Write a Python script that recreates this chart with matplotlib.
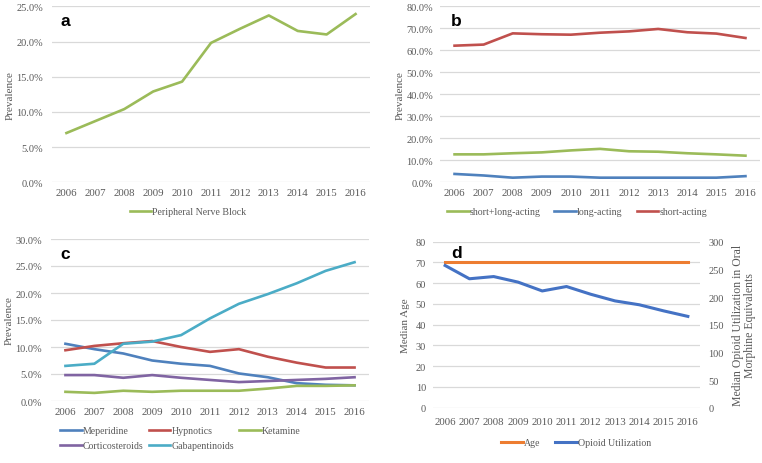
import matplotlib
matplotlib.use("Agg")
import matplotlib.pyplot as plt
from matplotlib.ticker import FuncFormatter, MultipleLocator

plt.rcParams['font.family'] = ['Liberation Serif', 'DejaVu Serif']

years = ['2006', '2007', '2008', '2009', '2010', '2011', '2012', '2013', '2014', '2015', '2016']

# Panel a
peripheral_nerve_block = [7.0, 8.7, 10.4, 12.9, 14.3, 19.8, 21.8, 23.7, 21.5, 21.0, 23.9]

# Panel b
short_long_acting = [12.7, 12.7, 13.2, 13.6, 14.5, 15.2, 14.1, 13.9, 13.2, 12.7, 12.1]
long_acting = [3.8, 3.1, 2.1, 2.6, 2.6, 2.1, 2.1, 2.1, 2.1, 2.1, 2.8]
short_acting = [62.1, 62.6, 67.7, 67.3, 67.1, 68.0, 68.6, 69.7, 68.2, 67.6, 65.6]

# Panel c
meperidine = [10.6, 9.6, 8.8, 7.5, 6.9, 6.5, 5.1, 4.4, 3.3, 3.0, 2.9]
hypnotics = [9.4, 10.2, 10.7, 11.1, 10.0, 9.1, 9.6, 8.2, 7.1, 6.2, 6.2]
ketamine = [1.7, 1.5, 1.9, 1.7, 1.9, 1.9, 1.9, 2.3, 2.8, 2.8, 2.9]
corticosteroids = [4.8, 4.8, 4.3, 4.8, 4.3, 3.9, 3.5, 3.7, 3.9, 4.1, 4.4]
gabapentinoids = [6.5, 6.9, 10.6, 11.0, 12.2, 15.3, 18.0, 19.8, 21.8, 24.1, 25.7]

# Panel d
median_age = [70, 70, 70, 70, 70, 70, 70, 70, 70, 70, 70]
opioid_utilization = [257, 233, 237, 227, 211, 219, 205, 193, 186, 175, 165]

W, H = 762, 464
fig = plt.figure(figsize=(W / 100, H / 100), dpi=100)

def box(x0, x1, ytop, ybot):
    return [x0 / W, 1 - ybot / H, (x1 - x0) / W, (ybot - ytop) / H]

GRID = '#D9D9D9'
TXT = '#595959'
FS = 7.5
XFS = 7.8
LFS = 7.1
LW = 1.9

def style(ax, ymax, step, pct=True, ypad=6.5, xpad=4):
    ax.set_xlim(-0.5, 10.5)
    ax.set_ylim(0, ymax)
    ax.yaxis.set_major_locator(MultipleLocator(step))
    if pct:
        ax.yaxis.set_major_formatter(FuncFormatter(lambda v, p: f'{v:.1f}%'))
    ax.set_xticks(range(len(years)))
    ax.set_xticklabels(years)
    for s in ax.spines.values():
        s.set_visible(False)
    ax.grid(axis='y', color=GRID, linewidth=0.9)
    ax.set_axisbelow(True)
    ax.tick_params(axis='both', length=0, colors=TXT)
    ax.tick_params(axis='y', pad=ypad, labelsize=FS)
    ax.tick_params(axis='x', pad=xpad, labelsize=XFS)

def letter(ax, s, fx, fy):
    ax.text(fx, fy, s, transform=ax.transAxes, fontsize=12.5, fontweight='bold',
            family='Liberation Sans', ha='left', va='baseline', zorder=5)

x = list(range(len(years)))
leg_kw = dict(frameon=False, fontsize=LFS, handlelength=2.2, handletextpad=0.1, labelcolor=TXT)

# ---- a
ax1 = fig.add_axes(box(52, 370, 7.3, 183.3))
style(ax1, 25, 5, ypad=6.3, xpad=4)
ax1.plot(x, peripheral_nerve_block, color='#9BBB59', lw=LW, label='Peripheral Nerve Block')
ax1.set_ylabel('Prevalence', fontsize=8, color=TXT, labelpad=1.5)
letter(ax1, 'a', 0.028, 0.894)
fig.legend(*ax1.get_legend_handles_labels(), loc='center', bbox_to_anchor=(188 / W, 1 - 213 / H),
           **leg_kw)

# ---- b
ax2 = fig.add_axes(box(440, 760, 7.3, 183.3))
style(ax2, 80, 10, ypad=5, xpad=4)
ax2.plot(x, short_long_acting, color='#9BBB59', lw=LW, label='short+long-acting')
ax2.plot(x, long_acting, color='#4F81BD', lw=LW, label='long-acting')
ax2.plot(x, short_acting, color='#C0504D', lw=LW, label='short-acting')
ax2.set_ylabel('Prevalence', fontsize=8, color=TXT, labelpad=1.5)
letter(ax2, 'b', 0.034, 0.894)
fig.legend(*ax2.get_legend_handles_labels(), loc='center', bbox_to_anchor=(577 / W, 1 - 213 / H),
           ncol=3, columnspacing=1.4, **leg_kw)

# ---- c
ax3 = fig.add_axes(box(51, 369, 240, 402))
style(ax3, 30, 5, ypad=6.3, xpad=4.5)
lm, = ax3.plot(x, meperidine, color='#4F81BD', lw=LW, label='Meperidine')
lh, = ax3.plot(x, hypnotics, color='#C0504D', lw=LW, label='Hypnotics')
lk, = ax3.plot(x, ketamine, color='#9BBB59', lw=LW, label='Ketamine')
lc, = ax3.plot(x, corticosteroids, color='#8064A2', lw=LW, label='Corticosteroids')
lg, = ax3.plot(x, gabapentinoids, color='#4BACC6', lw=LW, label='Gabapentinoids')
ax3.set_ylabel('Prevalence', fontsize=8, color=TXT, labelpad=1.5)
letter(ax3, 'c', 0.031, 0.883)
order = [lm, lc, lh, lg, lk]
fig.legend(order, [h.get_label() for h in order], loc='center left',
           bbox_to_anchor=(51 / W, 1 - 439 / H), ncol=3, columnspacing=0.55,
           labelspacing=0.6, **leg_kw)

# ---- d
ax4 = fig.add_axes(box(433, 700, 242.7, 408.7))
style(ax4, 80, 10, pct=False, ypad=5, xpad=7)
l1, = ax4.plot(x, median_age, color='#ED7D31', lw=2.2, label='Age')
ax4.set_ylabel('Median Age', fontsize=8, color=TXT, labelpad=4)
ax4b = ax4.twinx()
ax4b.set_ylim(0, 300)
ax4b.yaxis.set_major_locator(MultipleLocator(50))
for s in ax4b.spines.values():
    s.set_visible(False)
ax4b.tick_params(axis='y', length=0, labelsize=FS, colors=TXT, pad=6)
l2, = ax4b.plot(x, opioid_utilization, color='#4472C4', lw=2.2, label='Opioid Utilization')
ax4b.set_ylabel('Median Opioid Utilization in Oral\nMorphine Equivalents', fontsize=8.5,
                color=TXT, labelpad=6, linespacing=0.95)
ax4b.text(0.067, 0.908, 'd', transform=ax4.transAxes, fontsize=12.5, fontweight='bold',
          family='Liberation Sans', ha='left', va='baseline', zorder=5)
fig.legend([l1, l2], ['Age', 'Opioid Utilization'], loc='center', bbox_to_anchor=(576 / W, 1 - 444 / H),
           ncol=2, columnspacing=1.5, **leg_kw)

fig.savefig('out.png', dpi=100)
